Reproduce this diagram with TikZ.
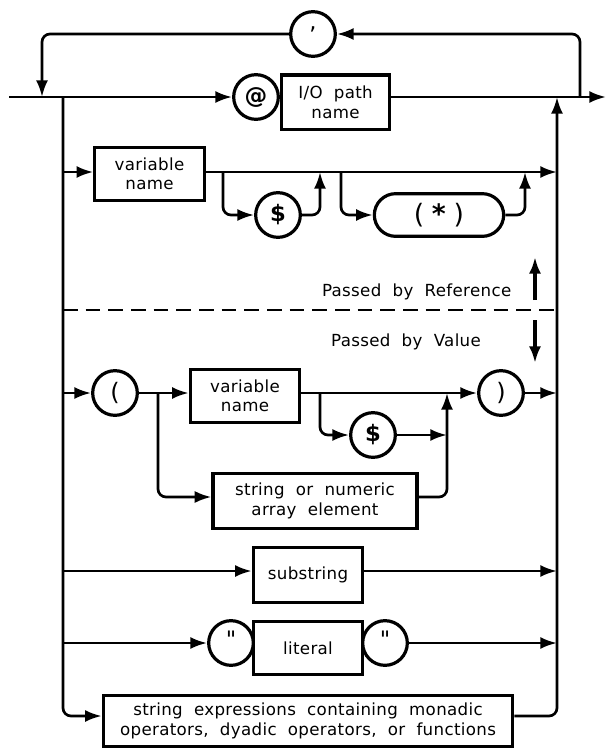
\documentclass[tikz,border=0pt]{standalone}
\usepackage{fontspec}
\setmainfont{DejaVu Sans}[LetterSpace=2, WordSpace=2]
\usetikzlibrary{arrows.meta, positioning, shapes.misc}

\begin{document}
\begin{tikzpicture}[
    x=0.75pt, y=-0.75pt,
    elem/.style={rectangle, draw, line width=2.4pt, align=center, inner sep=1pt, minimum width=82pt, minimum height=41pt, font=\fontsize{12.5}{14.5}\selectfont},
    lit/.style={circle, draw, line width=2.4pt, minimum size=33.5pt, inner sep=0pt, font=\fontsize{17}{17}\selectfont\bfseries},
    flow/.style={line width=2pt, rounded corners=6pt},
    arrow/.style={flow, -{Latex[length=12.5pt, width=9pt]}},
    note/.style={font=\fontsize{12.5}{14.5}\selectfont}
]
\useasboundingbox (0,0) rectangle (606,750);

% main line and the repeat loop
\coordinate (in) at (9,97);
\coordinate (out) at (606,97);
\coordinate (lt) at (42,97);
\coordinate (rt) at (580,97);
\coordinate (lb) at (63,97);
\coordinate (rb) at (557,97);

\node[lit, font=\fontsize{17}{17}\selectfont] (sep) at (313,34) {\raisebox{0.9ex}{,}};
\node[lit] (at) at (256,97) {@};
\node[elem, minimum width=81pt, right=0pt of at, yshift=-4pt] (io) {I/O path\\name};

\draw[arrow] (in) -- (at);
\draw[arrow] (io.east |- in) -- (out);
\draw[arrow] (rt) |- (sep);
\draw[arrow] (sep) -| (lt);

% passed by reference
\coordinate (r1) at (63,172);
\coordinate (r1e) at (557,172);
\coordinate (b1) at (223,172);
\coordinate (j1) at (320,172);
\coordinate (b2) at (341,172);
\coordinate (j2) at (525,172);

\node[elem, minimum height=40pt] (var) at (149.5,174) {variable\\name};
\node[lit] (dol) at (278,215) {\$};
\node[elem, rounded rectangle, minimum width=99pt, minimum height=32pt, font=\fontsize{20}{20}\selectfont] (star) at (439,215) {(\;\textbf{*}\;)};

\draw[arrow] (r1) -- (var.west |- r1);
\draw[arrow] (var.east |- r1) -- (r1e);
\draw[arrow] (b1) |- (dol);
\draw[arrow] (dol) -| (j1);
\draw[arrow] (b2) |- (star);
\draw[arrow] (star) -| (j2);

\coordinate (d0) at (63,310);
\coordinate (d1) at (557,310);
\coordinate (u0) at (535,300);
\coordinate (u1) at (535,257);
\coordinate (v0) at (535,320);
\coordinate (v1) at (535,363);

\node[note, anchor=east] (byref) at (516,292) {Passed by Reference};
\node[note] (byval) at (406,342) {Passed by Value};
\draw[line width=1.6pt, dash pattern=on 11pt off 6pt] (d0) -- (d1);
\draw[arrow, line width=2.4pt] (u0) -- (u1);
\draw[arrow, line width=2.4pt] (v0) -- (v1);

% passed by value
\coordinate (r2) at (63,393);
\coordinate (r2e) at (557,393);
\coordinate (b3) at (320,393);
\coordinate (j3) at (447,435);
\coordinate (b4) at (158,393);
\coordinate (j4) at (447,393);

\node[lit, font=\fontsize{18}{18}\selectfont] (lp) at (115,393) {(};
\node[elem, minimum height=40pt] (var2) at (245,396) {variable\\name};
\node[lit, font=\fontsize{18}{18}\selectfont] (rp) at (501,393) {)};
\node[lit] (dol2) at (373,435) {\$};
\node[elem, minimum width=153pt] (elt) at (315,501) {string or numeric\\array element};

\draw[arrow] (r2) -- (lp);
\draw[arrow] (lp) -- (var2.west |- r2);
\draw[arrow] (var2.east |- r2) -- (rp);
\draw[arrow] (rp) -- (r2e);
\draw[arrow] (b3) |- (dol2);
\draw[arrow] (dol2) -- (j3);
\draw[arrow] (b4) |- ([yshift=3pt]elt.west);
\draw[arrow] ([yshift=3pt]elt.east) -| (j4);

\coordinate (r3) at (63,571);
\coordinate (r3e) at (557,571);
\node[elem] (sub) at (308,575) {substring};
\draw[arrow] (r3) -- (sub.west |- r3);
\draw[arrow] (sub.east |- r3) -- (r3e);

\coordinate (r4) at (63,643);
\coordinate (r4e) at (557,643);
\node[elem, minimum height=40pt] (literal) at (308,648) {literal};
\node[lit, font=\fontsize{17}{17}\selectfont] (q1) at (231,643) {\raisebox{0.6ex}{\textquotedbl}};
\node[lit, font=\fontsize{17}{17}\selectfont] (q2) at (385,643) {\raisebox{0.6ex}{\textquotedbl}};
\draw[arrow] (r4) -- (q1);
\draw[arrow] (q2) -- (r4e);

\node[elem, minimum width=307pt, minimum height=38pt] (expr) at (308,721) {string expressions containing monadic\\operators, dyadic operators, or functions};

% side buses
\coordinate (r5) at (63,716);
\draw[arrow] (lb) |- (expr.west |- r5);
\draw[arrow] (expr.east |- r5) -| (rb);

\end{tikzpicture}
\end{document}
